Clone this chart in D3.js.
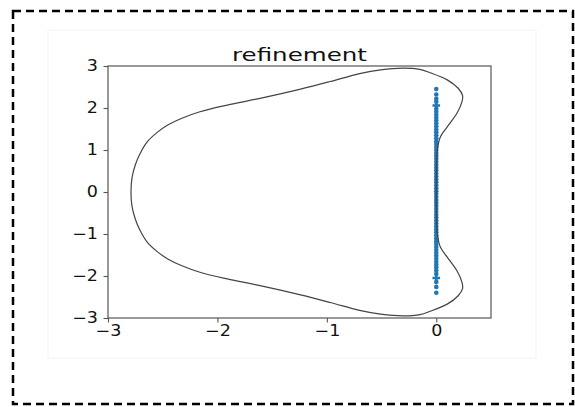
<!DOCTYPE html>
<html>
<head>
<meta charset="utf-8">
<script src="https://cdn.jsdelivr.net/npm/d3@7/dist/d3.min.js"></script>
<style>
  html, body { margin: 0; padding: 0; background: #fff; }
  svg { display: block; }
  text { font-family: "DejaVu Sans", sans-serif; }
</style>
</head>
<body>
<svg id="chart" width="575" height="407"></svg>
<script>
// Boundary of the stability region (closed curve, counter-clockwise from the left tip)
const boundaryX = [
  -2.79, -2.78, -2.75, -2.71, -2.64, -2.55, -2.45, -2.33, -2.16, -1.91, -1.61, -1.24, -0.97, -0.70, -0.51, -0.30, -0.15, -0.055,
  0.10, 0.20, 0.24, 0.235, 0.19, 0.10, 0.037, 0.01, 0.002,
  0.0,
  0.002, 0.01, 0.037, 0.10, 0.19, 0.235, 0.24, 0.20, 0.10,
  -0.055, -0.15, -0.30, -0.51, -0.70, -0.97, -1.24, -1.61, -1.91, -2.16, -2.33, -2.45, -2.55, -2.64, -2.71, -2.75, -2.78
];
const boundaryY = [
  0.0, 0.35, 0.65, 0.90, 1.20, 1.42, 1.60, 1.75, 1.91, 2.07, 2.23, 2.45, 2.63, 2.82, 2.91, 2.95, 2.92, 2.84,
  2.67, 2.47, 2.30, 2.15, 1.88, 1.55, 1.31, 1.00, 0.55,
  0.0,
  -0.55, -1.00, -1.31, -1.55, -1.88, -2.15, -2.30, -2.47, -2.67,
  -2.84, -2.92, -2.95, -2.91, -2.82, -2.63, -2.45, -2.23, -2.07, -1.91, -1.75, -1.60, -1.42, -1.20, -0.90, -0.65, -0.35
];

// Eigenvalues on the imaginary axis (real part 0)
const eigIm = [
  2.45, 2.32, 2.22, 2.15, 1.98, 1.91, 1.84, 1.77, 1.70, 1.63, 1.56, 1.49, 1.42, 1.35, 1.28, 1.21, 1.14,
  1.07, 1.00, 0.93, 0.86, 0.79, 0.72, 0.65, 0.58, 0.51, 0.44, 0.37, 0.30, 0.23, 0.16, 0.09, 0.02,
  -0.05, -0.12, -0.19, -0.26, -0.33, -0.40, -0.47, -0.54, -0.61, -0.68, -0.75, -0.82, -0.89, -0.96,
  -1.03, -1.10, -1.17, -1.24, -1.31, -1.38, -1.45, -1.52, -1.59, -1.66, -1.73, -1.80, -1.87, -1.95,
  -2.14, -2.26, -2.40
];
const eigRe = eigIm.map(() => 0);
// Refined eigenvalues marked with a cross
const crossIm = [2.06, -2.05];
const crossRe = [0, 0];

const xTicks = [-3, -2, -1, 0];
const yTicks = [-3, -2, -1, 0, 1, 2, 3];
const titleText = "refinement";

const svg = d3.select("#chart");

// outer dashed frame
svg.append("rect")
  .attr("x", 13).attr("y", 11).attr("width", 560).attr("height", 393)
  .attr("fill", "none").attr("stroke", "#000")
  .attr("stroke-width", 2.5).attr("stroke-dasharray", "8,5");

// faint figure edge
svg.append("rect")
  .attr("x", 48).attr("y", 30).attr("width", 488).attr("height", 328)
  .attr("fill", "none").attr("stroke", "#f3f3f3").attr("stroke-width", 1);

const x = d3.scaleLinear().domain([-3, 0.5]).range([108, 491]);
const y = d3.scaleLinear().domain([-3, 3]).range([318, 66]);

const stretch = 1.17;
const fmt = d3.format("d");

// x axis
const gx = svg.append("g").attr("transform", `translate(0,${y(-3)})`)
  .call(d3.axisBottom(x).tickValues(xTicks).tickSize(4.5).tickPadding(3).tickFormat(fmt));
gx.select(".domain").remove();
gx.selectAll("line").attr("stroke", "#555").attr("stroke-width", 1.1);
gx.selectAll("text").attr("fill", "#111").style("font-size", "15px")
  .attr("transform", `scale(${stretch},1)`);

// y axis
const gy = svg.append("g").attr("transform", `translate(${x(-3)},0)`)
  .call(d3.axisLeft(y).tickValues(yTicks).tickSize(4.5).tickPadding(5.5).tickFormat(fmt));
gy.select(".domain").remove();
gy.selectAll("line").attr("stroke", "#555").attr("stroke-width", 1.1);
gy.selectAll("text").attr("fill", "#111").style("font-size", "15px")
  .attr("x", -10 / stretch)
  .attr("transform", `scale(${stretch},1)`);

// eigenvalue dots
svg.append("g").selectAll("circle")
  .data(eigIm.map((v, i) => [eigRe[i], v]))
  .join("circle")
  .attr("cx", d => x(d[0])).attr("cy", d => y(d[1]))
  .attr("r", 2.3).attr("fill", "#1f77b4");

// cross markers
svg.append("g").selectAll("path")
  .data(crossIm.map((v, i) => [crossRe[i], v]))
  .join("path")
  .attr("transform", d => `translate(${x(d[0])},${y(d[1])})`)
  .attr("d", d3.symbol(d3.symbolCross, 32))
  .attr("fill", "#1f77b4");

// stability boundary
const pts = boundaryX.map((v, i) => [x(v), y(boundaryY[i])]);
svg.append("path")
  .attr("d", d3.line().curve(d3.curveCatmullRomClosed.alpha(0.5))(pts))
  .attr("fill", "none").attr("stroke", "#444").attr("stroke-width", 1.2);

// plot frame
svg.append("rect")
  .attr("x", x(-3)).attr("y", y(3))
  .attr("width", x(0.5) - x(-3)).attr("height", y(-3) - y(3))
  .attr("fill", "none").attr("stroke", "#555").attr("stroke-width", 1.2);

// title
svg.append("text")
  .attr("x", (x(-3) + x(0.5)) / 2).attr("y", 61)
  .attr("text-anchor", "middle")
  .attr("fill", "#111")
  .style("font-size", "17px")
  .attr("textLength", 135).attr("lengthAdjust", "spacingAndGlyphs")
  .text(titleText);
</script>
</body>
</html>
